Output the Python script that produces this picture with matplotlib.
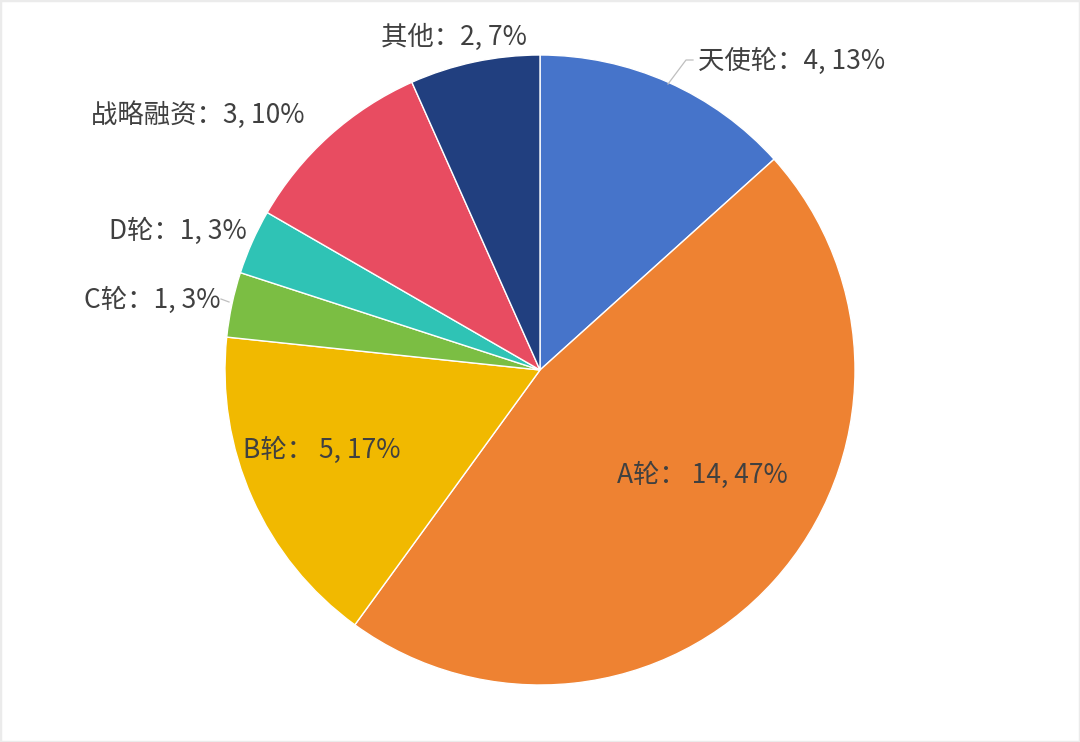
import matplotlib
matplotlib.use("Agg")
import matplotlib.pyplot as plt
from matplotlib.patches import Rectangle

plt.rcParams['font.family'] = ['Noto Sans CJK SC', 'DejaVu Sans']

categories = ['天使轮', 'A轮', 'B轮', 'C轮', 'D轮', '战略融资', '其他']
values = [4, 14, 5, 1, 1, 3, 2]
percents = ['13%', '47%', '17%', '3%', '3%', '10%', '7%']
colors = ['#4674CA', '#EE8232', '#F1B900', '#7BBE43', '#2FC3B5', '#E84C61', '#213F7F']

W, H = 1080, 742
fig = plt.figure(figsize=(W / 100, H / 100), dpi=100)
ax = fig.add_axes([0, 0, 1, 1])

cx, cy, r = 540, H - 370, 315
ax.pie(values, colors=colors, startangle=90, counterclock=False,
       center=(cx, cy), radius=r,
       wedgeprops=dict(edgecolor='white', linewidth=1.0), frame=True)
ax.set_xlim(0, W)
ax.set_ylim(0, H)
ax.set_aspect('equal')
ax.axis('off')

# label layout (pixel positions, y measured from top)
label_pos = {
    '天使轮': (792, 61),
    'A轮': (702, 475),
    'B轮': (322, 450),
    'C轮': (152, 300),
    'D轮': (178, 231),
    '战略融资': (198, 115),
    '其他': (454, 37),
}
seps = {'A轮': '： ', 'B轮': '： '}
for cat, v, p in zip(categories, values, percents):
    x, y = label_pos[cat]
    sep = seps.get(cat, '：')
    ax.text(x, H - y, f'{cat}{sep}{v}, {p}', ha='center', va='center',
            fontsize=19, color='#404040', fontweight='light')

# leader lines
ax.plot([668, 686, 693], [H - 84, H - 60, H - 60], color='#BFBFBF', lw=0.9)
ax.plot([221, 229], [H - 299, H - 302], color='#BFBFBF', lw=0.9)

# light border
fig.patches.append(Rectangle((0, 0), 1, 1, transform=fig.transFigure,
                             fill=False, edgecolor='#EBEBEB', lw=2.5))

fig.savefig('out.png', dpi=100)
